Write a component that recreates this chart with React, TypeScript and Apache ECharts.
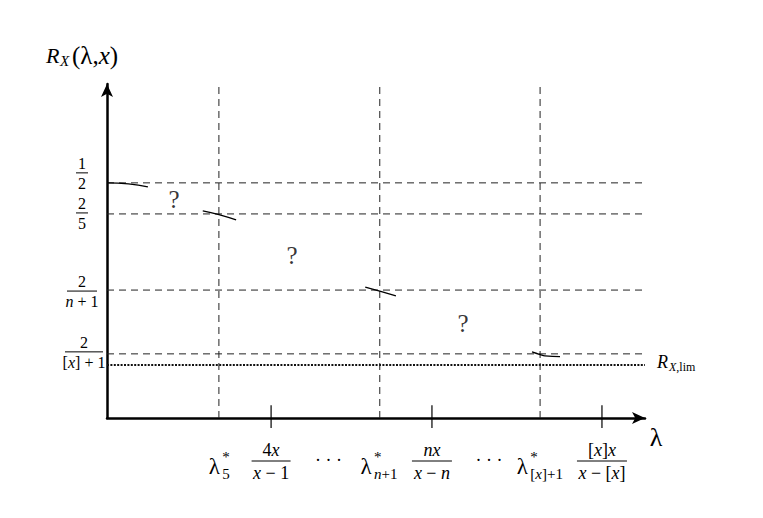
import React, { useEffect, useRef } from "react";
import * as echarts from "echarts";

// ---- schematic data (abstract axis units) ----
const X_MAX = 10;
const Y_MAX = 1;
// critical lambdas: λ*_5, λ*_{n+1}, λ*_{[x]+1}
const criticalLambdas = [2.08, 5.07, 8.05];
const criticalSubs = ["{r|5}", "{i|n}{r|+1}", "{r|[}{i|x}{r|]+1}"];
const criticalSubWidths = [7, 25, 33];
// ticks: 4x/(x-1), nx/(x-n), [x]x/(x-[x])
const tickLambdas = [3.05, 6.04, 9.2];
const tickNums = ["{r|4}{i|x}", "{i|nx}", "{r|[}{i|x}{r|]}{i|x}"];
const tickDens = ["{i|x}{r| − 1}", "{i|x}{r| − }{i|n}", "{i|x}{r| − [}{i|x}{r|]}"];
const tickBarWidths = [39, 40, 50];
// horizontal levels: 1/2, 2/5, 2/(n+1), 2/([x]+1)
const levels = [0.704, 0.611, 0.383, 0.192];
const levelNums = ["{r|1}", "{r|2}", "{r|2}", "{r|2}"];
const levelDens = ["{r|2}", "{r|5}", "{i|n}{r| + 1}", "{r|[}{i|x}{r|] + 1}"];
const levelBarWidths = [12, 12, 30, 38];
const levelLabelOffsets = [-10, -1, 1, -2];
const limLevel = 0.159;
// short curve pieces of R_X(λ, x)
const curves: number[][][] = [
  [[0, 0.704], [0.4, 0.701], [0.76, 0.692]],
  [[1.78, 0.62], [2.08, 0.609], [2.4, 0.593]],
  [[4.8, 0.392], [5.07, 0.38], [5.37, 0.366]],
  [[7.9, 0.198], [8.05, 0.19], [8.14, 0.186], [8.42, 0.184]],
];
const questionMarks = [[1.245, 0.653], [3.44, 0.488], [6.62, 0.284]];

const FONT = '"Liberation Serif", "Times New Roman", Times, serif';

function rich(size: number) {
  return {
    i: { fontStyle: "italic", fontSize: size, fontFamily: FONT, fill: "#000", color: "#000" },
    r: { fontStyle: "normal", fontSize: size, fontFamily: FONT, fill: "#000", color: "#000" },
  };
}

function txt(x: number, y: number, text: string, size: number, align = "center", vAlign = "middle", italic = false) {
  return {
    type: "text",
    x,
    y,
    silent: true,
    style: {
      text,
      fontSize: size,
      fontFamily: FONT,
      fontStyle: italic ? "italic" : "normal",
      fill: "#000",
      align,
      verticalAlign: vAlign,
      textAlign: align,
      textVerticalAlign: vAlign,
      rich: rich(size),
    },
  };
}

function frac(cx: number, barY: number, num: string, den: string, barW: number, size: number) {
  return [
    txt(cx, barY - size * 0.6, num, size),
    {
      type: "line",
      silent: true,
      shape: { x1: cx - barW / 2, y1: barY, x2: cx + barW / 2, y2: barY },
      style: { stroke: "#000", lineWidth: 1 },
    },
    txt(cx, barY + size * 0.66, den, size),
  ];
}

export default function App() {
  const ref = useRef<HTMLDivElement>(null);

  useEffect(() => {
    if (!ref.current) return;
    const chart = echarts.init(ref.current, null, { renderer: "svg" });

    const dashed = { type: [7, 5] as any, color: "#222", width: 1 };
    const series: any[] = [];
    levels.forEach((l) => {
      series.push({
        type: "line", symbol: "none", silent: true,
        data: [[0, l], [X_MAX, l]],
        lineStyle: dashed,
      });
    });
    series.push({
      type: "line", symbol: "none", silent: true,
      data: [[0, limLevel], [X_MAX, limLevel]],
      lineStyle: { type: [2, 1.4] as any, color: "#111", width: 2 },
    });
    criticalLambdas.forEach((c) => {
      series.push({
        type: "line", symbol: "none", silent: true,
        data: [[c, 0], [c, Y_MAX]],
        lineStyle: dashed,
      });
    });
    tickLambdas.forEach((t) => {
      series.push({
        type: "line", symbol: "none", silent: true, clip: false,
        data: [[t, -0.03], [t, 0.038]],
        lineStyle: { color: "#000", width: 1.2 },
      });
    });
    curves.forEach((c) => {
      series.push({
        type: "line", symbol: "none", silent: true, smooth: 0.5,
        data: c,
        lineStyle: { color: "#000", width: 1.3 },
      });
    });
    series.push({
      type: "scatter", silent: true,
      data: questionMarks,
      symbolSize: 1,
      itemStyle: { color: "rgba(0,0,0,0)" },
      label: {
        show: true, position: "inside", formatter: "?",
        fontSize: 25, fontFamily: FONT, color: "#000",
      },
    });

    const axisLine = {
      show: true,
      symbol: ["none", "arrow"],
      symbolSize: [9, 13],
      lineStyle: { color: "#000", width: 2.5 },
    };

    chart.setOption({
      animation: false,
      grid: { left: 99, top: 76, right: 110, bottom: 92 },
      xAxis: {
        type: "value", min: 0, max: X_MAX,
        axisLine, axisTick: { show: false }, axisLabel: { show: false }, splitLine: { show: false },
      },
      yAxis: {
        type: "value", min: 0, max: Y_MAX,
        axisLine, axisTick: { show: false }, axisLabel: { show: false }, splitLine: { show: false },
      },
      series,
    });

    const px = (x: number, y: number) => chart.convertToPixel({ gridIndex: 0 }, [x, y]) as number[];
    const origin = px(0, 0);
    const axisY = origin[1];
    const axisX = origin[0];
    const graphic: any[] = [];

    // y-axis title R_X(λ, x)
    const topY = px(0, Y_MAX)[1];
    graphic.push(txt(axisX - 61, topY - 29, "R", 22, "left", "middle", true));
    graphic.push(txt(axisX - 47, topY - 23, "X", 15, "left", "middle", true));
    graphic.push(txt(axisX - 35, topY - 29, "{r|(λ,}{i|x}{r|)}", 25, "left", "middle"));

    // x-axis title λ
    const end = px(X_MAX, 0);
    graphic.push(txt(end[0] + 11, axisY + 19, "λ", 26));

    // left fractions
    levels.forEach((l, i) => {
      const p = px(0, l);
      const cx = i === 3 ? axisX - 23 : axisX - 25;
      graphic.push(...frac(cx, p[1] + levelLabelOffsets[i], levelNums[i], levelDens[i], levelBarWidths[i], 16));
    });

    // R_X,lim label
    const lim = px(X_MAX, limLevel);
    graphic.push(txt(lim[0] + 12, lim[1] - 3, "R", 18, "left", "middle", true));
    graphic.push(txt(lim[0] + 24, lim[1] + 2, "{i|X}{r|,lim}", 12, "left", "middle"));

    // λ* labels
    criticalLambdas.forEach((c, i) => {
      const cx = px(c, 0)[0];
      const total = 13.5 + criticalSubWidths[i];
      const left = cx - total / 2;
      graphic.push(txt(left, axisY + 48, "λ", 23, "left", "middle"));
      graphic.push(txt(left + 13.5, axisY + 56, criticalSubs[i], 15, "left", "middle"));
      graphic.push(txt(left + 13.5, axisY + 39, "*", 15, "left", "middle"));
    });

    // tick fraction labels
    tickLambdas.forEach((t, i) => {
      const cx = px(t, 0)[0];
      graphic.push(...frac(cx, axisY + 43, tickNums[i], tickDens[i], tickBarWidths[i], 18));
    });

    // ellipses between labels
    [0, 1].forEach((i) => {
      const a = px(tickLambdas[i], 0)[0];
      const b = px(criticalLambdas[i + 1], 0)[0];
      graphic.push(txt((a + b) / 2 + 3, axisY + 42, "· · ·", 18));
    });

    chart.setOption({ graphic });

    return () => chart.dispose();
  }, []);

  return <div ref={ref} style={{ width: 747, height: 502 }} />;
}
